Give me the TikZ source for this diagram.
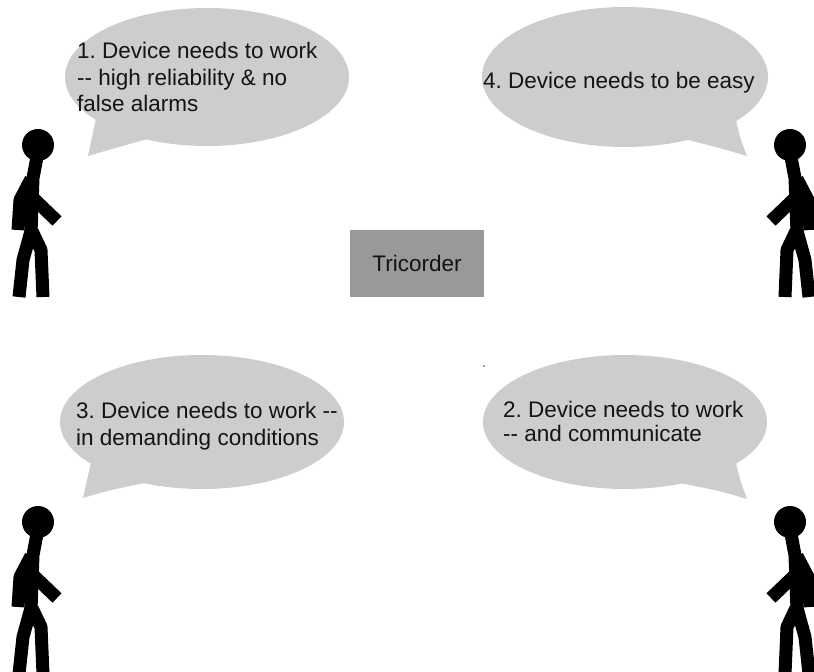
\documentclass[tikz,border=0pt]{standalone}
\usepackage{fontspec}
\setmainfont{Liberation Sans}
\frenchspacing
\definecolor{bubblegray}{RGB}{205,205,205}
\definecolor{boxgray}{RGB}{153,153,153}
\definecolor{inkgray}{RGB}{20,20,20}
\begin{document}
\begin{tikzpicture}[x=1pt,y=-1pt,
  bubble/.style={fill=bubblegray},
  saying/.style={anchor=west, align=left, inner sep=0pt, text=inkgray,
    font=\fontsize{22.5}{26.5}\selectfont},
  unitbox/.style={fill=boxgray, minimum width=134pt, minimum height=67pt,
    inner sep=0pt, text=inkgray, font=\fontsize{22.5}{26.5}\selectfont},
  limb/.style={line width=13pt, line cap=butt, line join=round},
  walker/.pic={
    \fill (0,0) circle[radius=16pt];
    \draw[limb] (-1,12) -- (-5,33) -- (-7,88);
    \draw[limb] (-7,34) -- (-18,55) -- (-20,85);
    \draw[limb] (-6,52) -- (19,76);
    \draw[limb] (-7,86) -- (-15,115) -- (-19,152);
    \draw[limb] (-6,86) -- (3,105) -- (5,152);
  }]
\useasboundingbox (0,0) rectangle (814,672);
\clip (0,0) rectangle (814,672);

% speech bubbles: an ellipse with a pointed tail towards the speaker
\fill[bubble] (207,77) ellipse[x radius=142pt, y radius=69pt];
\fill[bubble] (97,114) .. controls (93,135) .. (88,156) .. controls (115,148) .. (155,137) -- cycle;

\fill[bubble] (625,77) ellipse[x radius=143pt, y radius=70pt];
\fill[bubble] (735,116) .. controls (740,138) .. (747,156) .. controls (720,148) .. (680,138) -- cycle;

\fill[bubble] (202,422) ellipse[x radius=142pt, y radius=67pt];
\fill[bubble] (92,458) .. controls (88,478) .. (83,498) .. controls (110,490) .. (150,482) -- cycle;

\fill[bubble] (625,422) ellipse[x radius=142pt, y radius=67pt];
\fill[bubble] (735,459) .. controls (740,480) .. (747,499) .. controls (720,491) .. (680,483) -- cycle;

% what each speaker asks for
\node[saying] (need1) at (77,77) {1. Device needs to work\\-{}- high reliability \& no\\false alarms};
\node[saying, anchor=base west] (need4) at (483,88) {4. Device needs to be easy};
\node[saying] (need3) at (76,426) {3. Device needs to work -{}-\\in demanding conditions};
\node[saying, font=\fontsize{22.5}{24}\selectfont] (need2) at (503,421) {2. Device needs to work\\-{}- and communicate};

% the device in the middle
\node[unitbox] (tri) at (417,263.5) {Tricorder};
\fill[gray] (484,366) circle[radius=1.2pt];

% the four speakers
\pic at (38,145) {walker};
\pic[xscale=-1] at (790,145) {walker};
\pic at (38,522) {walker};
\pic[xscale=-1] at (790,522) {walker};
\end{tikzpicture}
\end{document}
